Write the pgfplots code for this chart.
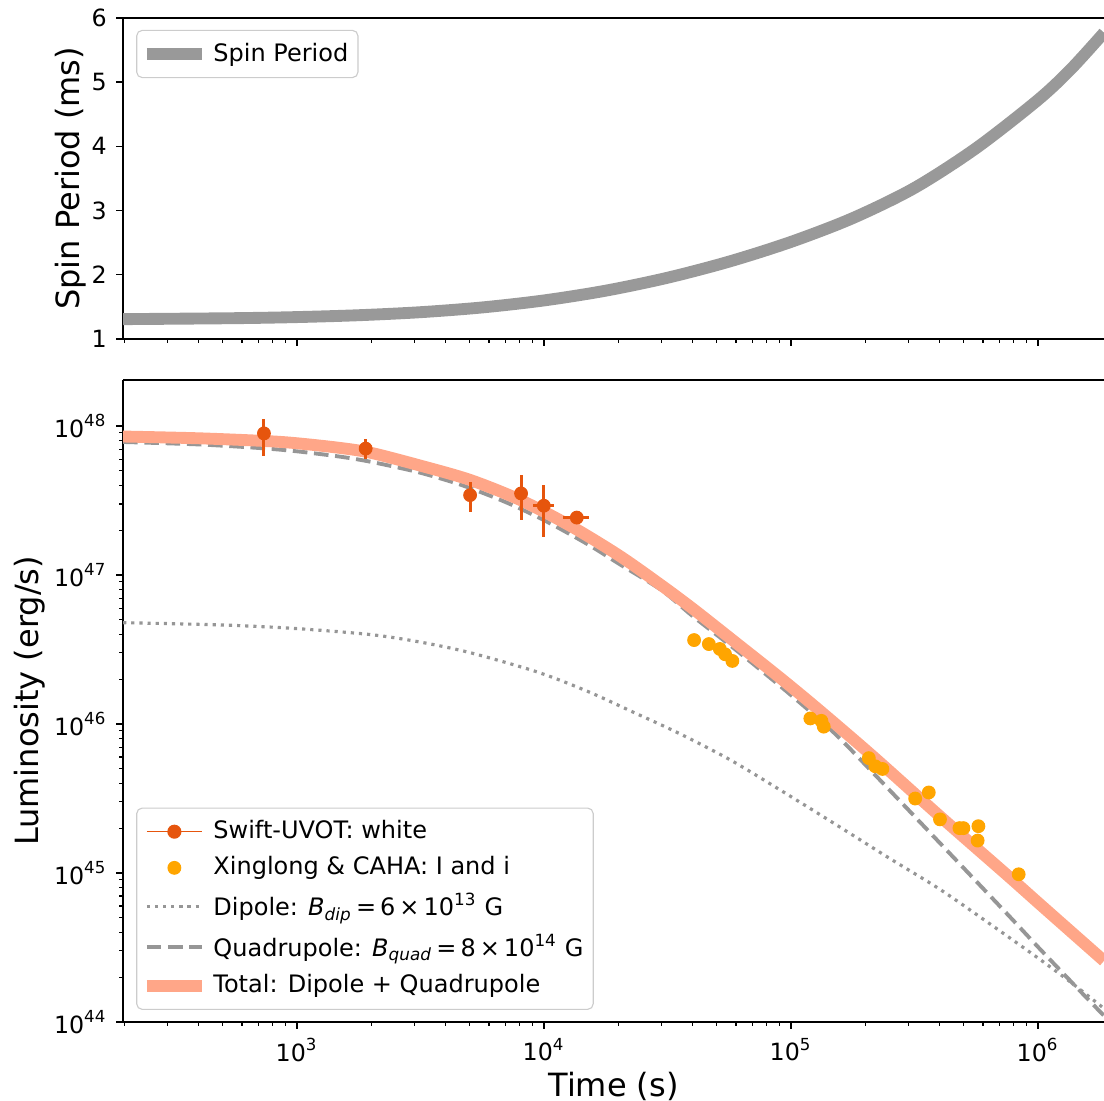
\documentclass[border=0pt]{standalone}
\usepackage{fontspec}
\setmainfont{DejaVu Sans}
\usepackage{pgfplots}
\pgfplotsset{compat=1.18}

\definecolor{swift}{HTML}{E6550D}
\definecolor{xing}{HTML}{FFA500}
\definecolor{total}{HTML}{FFA688}
\definecolor{model}{HTML}{969696}
\definecolor{spin}{HTML}{999999}

\newcommand\tickfont{\fontsize{8.6}{10}\selectfont}
\newcommand\legfont{\fontsize{8.7}{10}\selectfont}
\newcommand\labfont{\fontsize{11.6}{13.5}\selectfont}

\pgfplotsset{
  every axis/.append style={
    axis line style={-, line width=0.55pt},
    tick align=outside,
    major tick length=2.4pt, minor tick length=1.4pt,
    every tick/.style={black, line width=0.55pt},
    minor tick style={line width=0.4pt},
    tick label style={font=\tickfont},
    label style={font=\labfont},
    legend cell align=left,
  },
  legend image code/.code={
    \draw[mark repeat=2, mark phase=2, #1] plot coordinates {(0pt,0pt) (10pt,0pt) (20pt,0pt)};},
}

\begin{document}
\begin{tikzpicture}

% upper panel: spin period
\begin{axis}[
  at={(0,247.5pt)}, anchor=south west,
  scale only axis, width=355.4pt, height=116.3pt,
  xmode=log, xmin=198, xmax=1.855e6,
  xtick={1e3,1e4,1e5,1e6},
  xticklabels={\empty,\empty,\empty,\empty},
  minor xtick={200,300,400,500,600,700,800,900,2e3,3e3,4e3,5e3,6e3,7e3,8e3,9e3,
    2e4,3e4,4e4,5e4,6e4,7e4,8e4,9e4,2e5,3e5,4e5,5e5,6e5,7e5,8e5,9e5},
  axis x line*=box, axis y line*=left,
  xtick pos=left, ytick pos=left,
  ymin=1, ymax=6, ytick={1,2,3,4,5,6},
  /pgf/number format/assume math mode=true,
  ylabel={Spin Period (ms)}, ylabel shift=-5pt,
  legend style={at={(0.0133,0.963)}, anchor=north west, draw=black!20,
    rounded corners=2pt, font=\legfont, inner xsep=1.5pt, inner ysep=2.5pt},
]
\addplot[spin, line width=4.3pt, smooth] coordinates {
  (198,1.308) (562,1.323) (1000,1.340) (1778,1.369) (3162,1.416) (5623,1.490)
  (1e4,1.599) (17783,1.751) (31623,1.952) (56234,2.204) (1e5,2.510)
  (177828,2.880) (316228,3.350) (562341,3.970) (1e6,4.720) (1.36e6,5.200)
  (1.855e6,5.770)
};
\addlegendentry{Spin Period}
\end{axis}

% lower panel: luminosity
\begin{axis}[
  at={(0,0)}, anchor=south west,
  scale only axis, width=355.4pt, height=232.6pt,
  xmode=log, xmin=198, xmax=1.855e6,
  ymode=log, ymin=1e44, ymax=2.04e48,
  axis x line*=box, axis y line*=left,
  xtick pos=left, ytick pos=left,
  xtick={1e3,1e4,1e5,1e6},
  minor xtick={200,300,400,500,600,700,800,900,2e3,3e3,4e3,5e3,6e3,7e3,8e3,9e3,
    2e4,3e4,4e4,5e4,6e4,7e4,8e4,9e4,2e5,3e5,4e5,5e5,6e5,7e5,8e5,9e5},
  xticklabels={10\textsuperscript{3},10\textsuperscript{4},10\textsuperscript{5},10\textsuperscript{6}},
  ytick={1e44,1e45,1e46,1e47,1e48},
  yticklabels={10\textsuperscript{44},10\textsuperscript{45},10\textsuperscript{46},10\textsuperscript{47},10\textsuperscript{48}},
  minor ytick={2e44,3e44,4e44,5e44,6e44,7e44,8e44,9e44,2e45,3e45,4e45,5e45,6e45,7e45,8e45,9e45,
    2e46,3e46,4e46,5e46,6e46,7e46,8e46,9e46,2e47,3e47,4e47,5e47,6e47,7e47,8e47,9e47},
  xlabel={Time (s)}, xlabel shift=-3pt,
  ylabel={Luminosity (erg/s)}, ylabel shift=-3.6pt,
  legend style={at={(0.0133,0.0187)}, anchor=south west, draw=black!20,
    rounded corners=2pt, font=\legfont, inner xsep=1.5pt, inner ysep=2.5pt, row sep=1.0pt},
]
\addlegendimage{swift, line width=0.5pt, mark=*, mark size=2.3pt, mark options={fill=swift}}
\addlegendentry{Swift-UVOT: white}
\addlegendimage{only marks, mark=*, mark size=2.3pt, xing, mark options={fill=xing}}
\addlegendentry{Xinglong \& CAHA: I and i}
\addlegendimage{model, line width=1.15pt, dash pattern=on 1.15pt off 1.8pt}
\addlegendentry{Dipole: \textit{B}\textsubscript{\textit{dip}}\,=\,6\,×\,10\textsuperscript{13} G}
\addlegendimage{model, line width=1.4pt, dash pattern=on 5.3pt off 2.4pt}
\addlegendentry{Quadrupole: \textit{B}\textsubscript{\textit{quad}}\,=\,8\,×\,10\textsuperscript{14} G}
\addlegendimage{total, line width=4.3pt}
\addlegendentry{Total: Dipole + Quadrupole}

% dipole
\addplot[forget plot, model, line width=1.15pt, dash pattern=on 1.15pt off 1.8pt, smooth] coordinates {
  (198,4.79e46) (500,4.62e46) (1000,4.37e46) (2000,3.98e46) (3155,3.55e46)
  (5000,3.02e46) (9370,2.24e46) (1.5e4,1.66e46) (2.23e4,1.23e46) (3.5e4,8.71e45)
  (5.68e4,5.75e45) (9e4,3.63e45) (1.44e5,2.24e45) (2.5e5,1.26e45) (4.02e5,7.76e44)
  (6.5e5,4.47e44) (1.02e6,2.63e44) (1.4e6,1.78e44) (1.855e6,1.23e44)
};
% quadrupole
\addplot[forget plot, model, line width=1.4pt, dash pattern=on 5.3pt off 2.4pt, smooth] coordinates {
  (198,7.82e47) (400,7.53e47) (700,7.13e47) (1000,6.77e47) (1500,6.23e47)
  (2000,5.75e47) (3000,4.97e47) (4000,4.35e47) (5000,3.85e47) (7000,3.09e47)
  (1e4,2.34e47) (1.5e4,1.615e47) (2e4,1.20e47) (3e4,7.9e46) (4e4,5.31e46)
  (6e4,3.14e46) (1e5,1.567e46) (1.5e5,8.7e45) (2.16e5,4.68e45) (4.02e5,1.585e45)
  (7.47e5,5.37e44) (1.02e6,3.09e44) (1.48e6,1.62e44) (1.855e6,1.10e44)
};
% total
\addplot[forget plot, total, line width=4.3pt, smooth] coordinates {
  (198,8.51e47) (400,8.28e47) (745,7.94e47) (1000,7.67e47) (1500,7.13e47)
  (2000,6.61e47) (3160,5.43e47) (5030,4.35e47) (8000,3.20e47) (1.28e4,2.14e47)
  (2.02e4,1.35e47) (3.0e4,8.51e46) (4.04e4,5.89e46) (6.0e4,3.51e46) (9.06e4,2.04e46)
  (1.31e5,1.23e46) (2.16e5,6.03e45) (4.02e5,2.40e45) (7.47e5,9.77e44)
  (1.02e6,6.17e44) (1.855e6,2.57e44)
};
% Xinglong & CAHA
\addplot[forget plot, only marks, mark=*, mark size=2.3pt, xing, mark options={fill=xing}] coordinates {
  (4.06e4,3.66e46) (4.66e4,3.44e46) (5.16e4,3.19e46) (5.42e4,2.94e46) (5.8e4,2.65e46)
  (1.2e5,1.09e46) (1.33e5,1.05e46) (1.36e5,9.6e45)
  (2.07e5,5.9e45) (2.2e5,5.2e45) (2.35e5,4.99e45)
  (3.19e5,3.16e45) (3.62e5,3.47e45) (4.02e5,2.29e45)
  (4.82e5,2.0e45) (5.0e5,2.0e45) (5.75e5,2.06e45) (5.71e5,1.65e45)
  (8.37e5,9.8e44)
};
% Swift-UVOT
\addplot[forget plot, only marks, mark=*, mark size=2.3pt, swift, mark options={fill=swift},
  error bars/.cd, y dir=both, y explicit, x dir=both, x explicit,
  error mark=none, error bar style={line width=1.1pt, swift}]
coordinates {
  (736,8.93e47) += (0,2.23e47) -= (0,2.62e47)
  (1900,7.06e47) += (0,1.09e47) -= (0,1.01e47)
  (5030,3.44e47) += (0,0.79e47) -= (0,0.78e47)
  (8090,3.53e47) += (0,1.16e47) -= (0,1.19e47)
  (1.0e4,2.92e47) += (1000,1.10e47) -= (920,1.13e47)
  (1.36e4,2.43e47) += (1600,0) -= (1600,0)
};
\end{axis}

\pgfresetboundingbox
\path[use as bounding box] (-44.6pt,-28.3pt) rectangle (355.4pt,370.3pt);
\end{tikzpicture}
\end{document}
